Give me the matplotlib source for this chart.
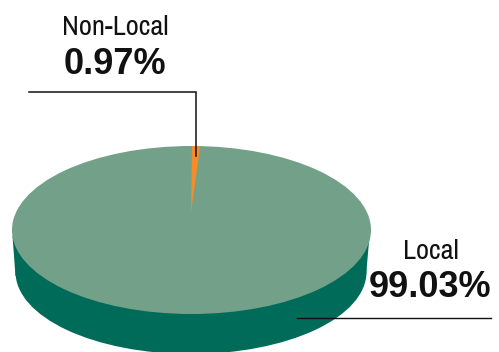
#!/usr/bin/env python3

import matplotlib
matplotlib.use("Agg")
import matplotlib.pyplot as plt
from matplotlib.patches import Ellipse, Polygon, Wedge
from matplotlib.transforms import Affine2D

# --------------------------------------------
# Data
# --------------------------------------------

labels = ["Local", "Non-Local"]
shares = [99.03, 0.97]

GREEN_TOP = "#72A088"
GREEN_SIDE = "#006B58"
ORANGE = "#F68B28"

LABEL_FONT = ["Archivo Narrow", "Liberation Sans"]
VALUE_FONT = ["Liberation Sans"]

fig = plt.figure(figsize=(4.99, 3.52), dpi=100)
ax = fig.add_axes([0, 0, 1, 1])
ax.set_xlim(0, 499)
ax.set_ylim(352, 0)
ax.axis("off")

# --------------------------------------------
# Disc side, then top face
# --------------------------------------------

ax.add_patch(Ellipse((191, 272), 351, 164, color=GREEN_SIDE, lw=0))
ax.add_patch(Polygon([(12.5, 236), (369.5, 236), (366, 276), (15.5, 276)],
                     closed=True, color=GREEN_SIDE, lw=0))

top = Ellipse((191.5, 230), 359, 168, color=GREEN_TOP, lw=0)
ax.add_patch(top)

# --------------------------------------------
# Small slice, clockwise from twelve o'clock and clipped to the top face
# --------------------------------------------

sweep = shares[1] / sum(shares) * 360
start = 90 - 0.42
slice_tf = Affine2D().scale(135, -67).translate(191, 213) + ax.transData
slice_patch = Wedge((0, 0), 1.2, start - sweep, start, color=ORANGE, lw=0,
                    transform=slice_tf)
ax.add_patch(slice_patch)
slice_patch.set_clip_path(top)

# --------------------------------------------
# Leader lines
# --------------------------------------------

ax.plot([29, 195.7, 195.7], [92, 92, 156], color="#111111", lw=1.1,
        solid_joinstyle="miter")
ax.plot([297, 491], [318, 318], color="#111111", lw=1.0)

# --------------------------------------------
# Labels
# --------------------------------------------

ax.text(115, 35, labels[1], family=LABEL_FONT, fontsize=20.5, ha="center",
        va="baseline", color="#111111")
ax.text(115, 74, f"{shares[1]:.2f}%", family=VALUE_FONT, fontsize=26,
        fontweight="bold", ha="center", va="baseline", color="#111111")
ax.text(430.5, 259, labels[0], family=LABEL_FONT, fontsize=20.5, ha="center",
        va="baseline", color="#111111")
ax.text(430.5, 297, f"{shares[0]:.2f}%", family=VALUE_FONT, fontsize=26,
        fontweight="bold", ha="center", va="baseline", color="#111111")

fig.savefig("out.png", dpi=100)
